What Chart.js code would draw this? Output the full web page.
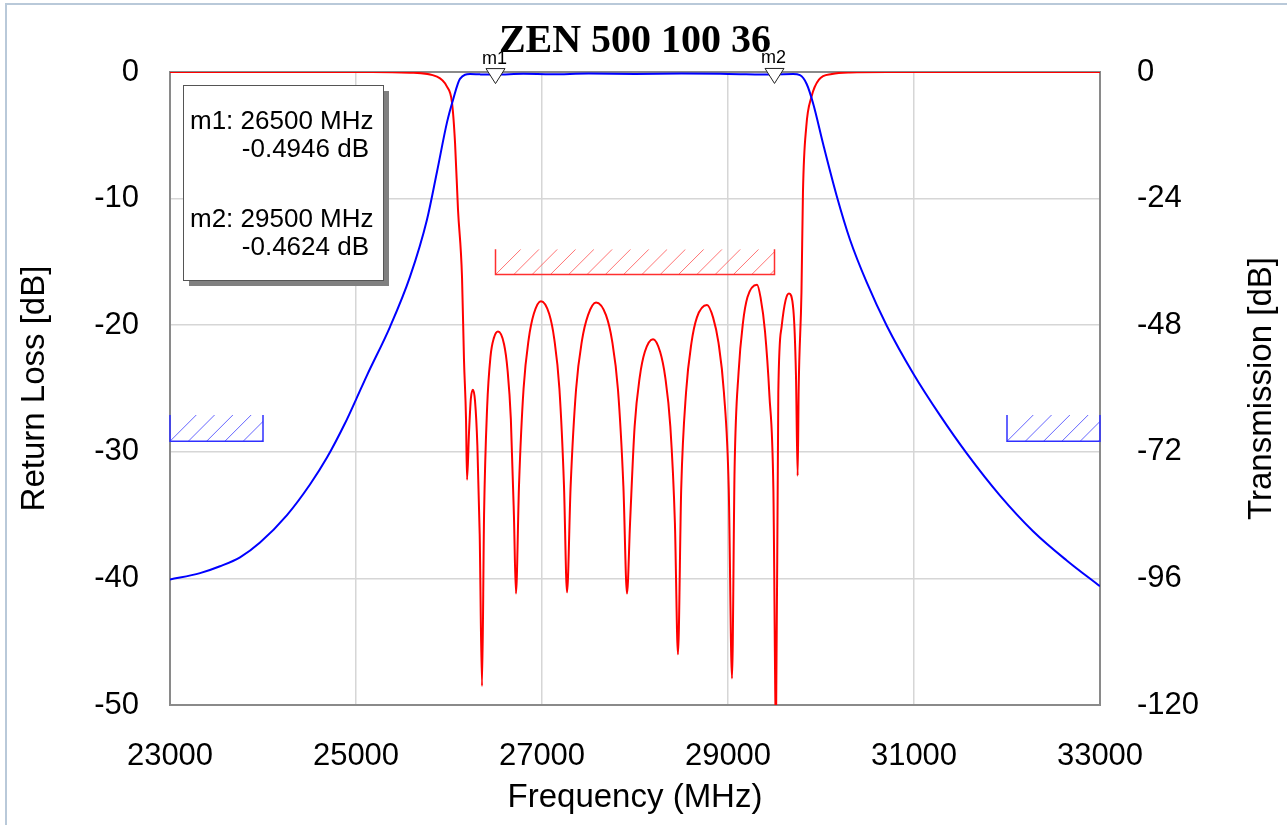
<!DOCTYPE html>
<html>
<head>
<meta charset="utf-8">
<script src="https://cdn.jsdelivr.net/npm/chart.js@4.4.1/dist/chart.umd.min.js"></script>
<style>
  html,body{margin:0;padding:0;background:#fff;}
  #c{display:block;}
</style>
</head>
<body>
<canvas id="c" width="1287" height="825"></canvas>
<script>
// Return loss (S11), left axis, dB
const rlFreq = [23000,25172,25581,25871,25978,26032,26065,26097,26140,26161,26183,26194,
  26215,26235,26258,26280,26305,26330,26355,
  26377,26410,26446,26483,26527,26592,26629,26665,26698,26720,
  26753,26802,26857,26912,26989,27077,27132,27187,27236,27269,
  27308,27366,27430,27495,27581,27688,27753,27817,27875,27914,
  27947,27996,28051,28106,28194,28270,28325,28380,28429,28462,
  28497,28549,28607,28665,28774,28840,28898,28956,29008,29043,
  29071,29114,29161,29209,29312,29350,29398,29445,29488,29516,
  29541,29577,29620,29656,29703,29731,29749,
  29760,29790,29806,29842,29896,29978,30118,30312,30710,33000];
const rlDb = [0,0,-0.05,-0.37,-1.16,-2.4,-5.6,-10.9,-16.2,-22.7,-27.4,-32.2,
  -28.5,-25.8,-25.1,-26.0,-29.5,-36.5,-48.5,
  -35.0,-26.5,-22.5,-21.0,-20.5,-21.5,-23.5,-27.4,-35.0,-41.2,
  -32.6,-25.0,-21.1,-19.1,-18.1,-19.1,-21.1,-25.0,-32.6,-41.1,
  -32.7,-25.1,-21.2,-19.2,-18.2,-19.2,-21.2,-25.1,-32.7,-41.2,
  -35.6,-28.0,-24.1,-22.1,-21.1,-22.1,-24.1,-28.0,-35.6,-46.0,
  -32.9,-25.3,-21.4,-19.4,-18.4,-19.4,-21.4,-25.3,-32.9,-47.9,
  -31.3,-23.7,-19.8,-17.8,-16.8,-17.8,-20.5,-25.5,-33.0,-52,
  -25.3,-20.1,-18.0,-17.5,-18.8,-24.0,-31.9,
  -25,-17.4,-9.5,-4.3,-2.0,-0.6,-0.16,-0.03,0,0];

// Transmission (S21), right axis, dB
const s21Freq = [23000,23323,23538,23753,23968,24258,24505,24688,24882,25000,25118,25366,25581,25763,25871,
  25979,26043,26118,26226,26333,26500,26800,27100,27500,28000,28500,29000,29500,29700,
  29774,29846,29917,30025,30169,30312,30492,30707,30993,31280,31567,31925,32283,32642,33000];
const s21Db = [-96.2,-95.0,-93.7,-92.0,-89.2,-84.0,-78.2,-73.1,-66.6,-62.1,-57.5,-48.3,-38.8,-28.0,-18.9,
  -9.5,-5.3,-1.3,-0.4,-0.45,-0.49,-0.35,-0.42,-0.3,-0.38,-0.3,-0.36,-0.46,-0.4,
  -0.6,-2.27,-6.06,-13.8,-23.5,-31.8,-39.9,-48.1,-57.2,-65.1,-72.3,-80.3,-87.1,-92.6,-97.5];

// masks: [f1, f2, lowDb, highDb]
const rlMask = [26500, 29500, -16, -14];
const s21MaskLeft = [23000, 24000, -70, -65];
const s21MaskRight = [32000, 33000, -70, -65];

// markers
const markerNames = ['m1','m2'];
const markerFreq = [26500, 29500];
const markerDb = [-0.4946, -0.4624];

const titleText = 'ZEN 500 100 36';
const xTitle = 'Frequency (MHz)';
const yTitle = 'Return Loss [dB]';
const y2Title = 'Transmission [dB]';

const sans = '"Liberation Sans", Arial, sans-serif';
const tickFont = {family: sans, size: 31};
const axisFont = {family: sans, size: 33};

function drawHatch(ctx, x0, x1, yTop, yBot, lineCol, edgeCol){
  ctx.save();
  ctx.beginPath(); ctx.rect(x0, yTop, x1-x0, yBot-yTop); ctx.clip();
  ctx.strokeStyle=lineCol; ctx.lineWidth=1;
  const h=yBot-yTop;
  ctx.beginPath();
  for(let x=x0; x<x1; x+=18.3){ ctx.moveTo(x,yBot); ctx.lineTo(x+h,yTop); }
  ctx.stroke();
  ctx.restore();
  ctx.save();
  ctx.strokeStyle=edgeCol; ctx.lineWidth=1.5;
  ctx.beginPath();
  ctx.moveTo(x0,yTop); ctx.lineTo(x0,yBot); ctx.lineTo(x1,yBot); ctx.lineTo(x1,yTop);
  ctx.stroke();
  ctx.restore();
}

const overlay = {
  id:'overlay',
  beforeDatasetsDraw(chart){
    const {ctx, chartArea:a} = chart;
    ctx.save();
    ctx.strokeStyle='#8a8a8a'; ctx.lineWidth=2;
    ctx.strokeRect(a.left, a.top, a.right-a.left, a.bottom-a.top);
    ctx.restore();
  },
  afterDatasetsDraw(chart){
    const {ctx, scales} = chart;
    const x=scales.x, y=scales.y, y2=scales.y2;
    // masks
    drawHatch(ctx, x.getPixelForValue(rlMask[0]), x.getPixelForValue(rlMask[1]),
      y.getPixelForValue(rlMask[3]), y.getPixelForValue(rlMask[2]), 'rgba(255,70,70,0.75)', '#ff3030');
    [s21MaskLeft, s21MaskRight].forEach(m=>{
      drawHatch(ctx, x.getPixelForValue(m[0]), x.getPixelForValue(m[1]),
        y2.getPixelForValue(m[3]), y2.getPixelForValue(m[2]), 'rgba(50,50,255,0.75)', '#3030ff');
    });
    // marker triangles
    ctx.save();
    markerNames.forEach((n,i)=>{
      const px=x.getPixelForValue(markerFreq[i]), py=y2.getPixelForValue(markerDb[i]);
      ctx.beginPath();
      ctx.moveTo(px-9.5, py-6); ctx.lineTo(px+9.5, py-6); ctx.lineTo(px, py+9); ctx.closePath();
      ctx.fillStyle='#fff'; ctx.fill();
      ctx.strokeStyle='#222'; ctx.lineWidth=1; ctx.stroke();
      ctx.fillStyle='#000'; ctx.font='18px '+sans; ctx.textAlign='center'; ctx.textBaseline='alphabetic';
      ctx.fillText(n, px-1, py-11);
    });
    ctx.restore();
    // marker readout box
    ctx.save();
    const bx=183, by=85, bw=200, bh=195;
    ctx.fillStyle='#808080'; ctx.fillRect(bx+6, by+6, bw, bh);
    ctx.fillStyle='#fff'; ctx.fillRect(bx, by, bw, bh);
    ctx.strokeStyle='#555'; ctx.lineWidth=1; ctx.strokeRect(bx+0.5, by+0.5, bw, bh);
    ctx.fillStyle='#000'; ctx.font='26px '+sans; ctx.textBaseline='middle';
    markerNames.forEach((n,i)=>{
      const ty = by + 37 + i*98;
      ctx.textAlign='left';
      ctx.fillText(n+': '+markerFreq[i]+' MHz', bx+7, ty);
      ctx.textAlign='right';
      ctx.fillText(markerDb[i].toFixed(4)+' dB', bx+186, ty+28);
    });
    ctx.restore();
  },
  afterDraw(chart){
    const {ctx, chartArea:a} = chart;
    ctx.save();
    // title
    ctx.fillStyle='#000'; ctx.font='bold 40px "Liberation Serif", "Times New Roman", serif';
    ctx.textAlign='center'; ctx.textBaseline='alphabetic';
    ctx.fillText(titleText, (a.left+a.right)/2, 52);
    // right axis title, reading upward
    ctx.translate(1262, (a.top+a.bottom)/2); ctx.rotate(-Math.PI/2);
    ctx.font='33px '+sans; ctx.textBaseline='middle';
    ctx.fillText(y2Title, 0, 0);
    ctx.restore();
    // page frame
    ctx.save();
    ctx.strokeStyle='#b9c9d9'; ctx.lineWidth=2;
    ctx.beginPath(); ctx.moveTo(6,825); ctx.lineTo(6,4); ctx.lineTo(1287,4); ctx.stroke();
    ctx.restore();
  }
};

new Chart(document.getElementById('c').getContext('2d'), {
  type:'line',
  data:{datasets:[
    {label:'S21', data:s21Freq.map((f,i)=>({x:f,y:s21Db[i]})), yAxisID:'y2',
      borderColor:'#0000ff', borderWidth:2, pointRadius:0, cubicInterpolationMode:'monotone'},
    {label:'S11', data:rlFreq.map((f,i)=>({x:f,y:rlDb[i]})), yAxisID:'y',
      borderColor:'#ff0000', borderWidth:2, pointRadius:0, cubicInterpolationMode:'monotone'}
  ]},
  options:{
    responsive:false, animation:false, devicePixelRatio:1,
    layout:{padding:{top:72,left:0,right:0,bottom:0}},
    plugins:{legend:{display:false}, tooltip:{enabled:false}},
    scales:{
      x:{type:'linear', min:23000, max:33000,
        ticks:{stepSize:2000, font:tickFont, color:'#000', padding:33, maxRotation:0, callback:v=>String(v)},
        grid:{color:'#d6d6d6', lineWidth:1.5, drawTicks:false},
        border:{display:false},
        title:{display:true, text:xTitle, font:axisFont, color:'#000', padding:{top:0,bottom:7}},
        afterFit:s=>{s.height=120;}},
      y:{position:'left', min:-50, max:0,
        ticks:{stepSize:10, font:tickFont, color:'#000', padding:31},
        grid:{color:'#d6d6d6', lineWidth:1.5, drawTicks:false},
        border:{display:false},
        title:{display:true, text:yTitle, font:axisFont, color:'#000', padding:{top:15,bottom:0}},
        afterFit:s=>{s.width=170;}},
      y2:{position:'right', min:-120, max:0,
        ticks:{stepSize:24, font:tickFont, color:'#000', padding:37},
        grid:{drawOnChartArea:false, drawTicks:false},
        border:{display:false},
        afterFit:s=>{s.width=187;}}
    }
  },
  plugins:[overlay]
});
</script>
</body>
</html>
